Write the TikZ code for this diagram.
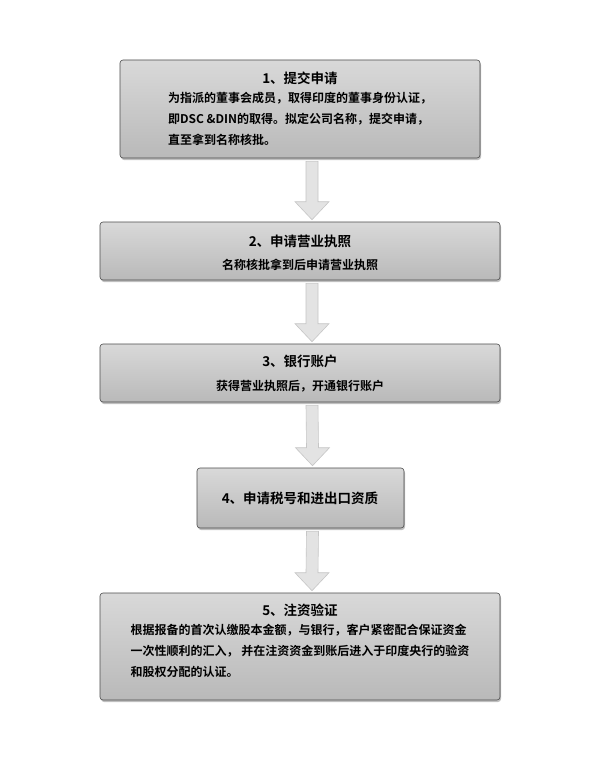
\documentclass[tikz,border=0pt]{standalone}
\usepackage{fontspec}
\setmainfont{Noto Sans CJK SC}[BoldFont={* Bold}]
\usetikzlibrary{shadows,calc}
\begin{document}
\begin{tikzpicture}[x=1pt,y=-1pt,
  stepbox/.style={draw=gray!60!black, line width=0.6pt, top color=gray!30, bottom color=gray!55, rounded corners=3pt, drop shadow={shadow xshift=1pt, shadow yshift=-2pt, opacity=0.5}, inner sep=0pt},
  body/.style={font=\bfseries\fontsize{12}{21}\selectfont, align=left},
  ttl/.style={font=\bfseries\fontsize{13.5}{15}\selectfont},
  arr/.style={fill=gray!22, draw=gray!45, line width=0.6pt}]
\useasboundingbox[fill=white] (0,0) rectangle (600,784);
\node[stepbox, minimum width=360, minimum height=98] (b1) at (300,109) {};
\node[ttl] (t1) at (300,78) {1、提交申请};
\node[body, anchor=north] (x1) at (300,89) {为指派的董事会成员，取得印度的董事身份认证，\\即DSC \&DIN的取得。拟定公司名称，提交申请，\\直至拿到名称核批。};
\node[stepbox, minimum width=400, minimum height=58] (b2) at (300,251) {};
\node[ttl] (t2) at (300,241) {2、申请营业执照};
\node[body] (x2) at (300,265) {名称核批拿到后申请营业执照};
\node[stepbox, minimum width=400, minimum height=58] (b3) at (300,373) {};
\node[ttl] (t3) at (300,361) {3、银行账户};
\node[body] (x3) at (300,386) {获得营业执照后，开通银行账户};
\node[stepbox, minimum width=207, minimum height=60] (b4) at (300.5,498) {};
\node[ttl] (t4) at (300,498) {4、申请税号和进出口资质};
\node[stepbox, minimum width=400, minimum height=107] (b5) at (300,646.5) {};
\node[ttl] (t5) at (300,610) {5、注资验证};
\node[body, anchor=north] (x5) at (300,621) {根据报备的首次认缴股本金额，与银行，客户紧密配合保证资金\\一次性顺利的汇入， 并在注资资金到账后进入于印度央行的验资\\和股权分配的认证。};
\foreach \a/\b in {b1/b2,b2/b3,b3/b4,b4/b5}{
  \draw[arr] ($(\a.south)+(6,3)$) -- ($(\a.south)+(18,3)$) -- ($(\b.north)+(18,-20)$) -- ($(\b.north)+(29,-20)$) -- ($(\b.north)+(12,-2)$) -- ($(\b.north)+(-5,-20)$) -- ($(\b.north)+(6,-20)$) -- cycle;
}
\end{tikzpicture}
\end{document}
